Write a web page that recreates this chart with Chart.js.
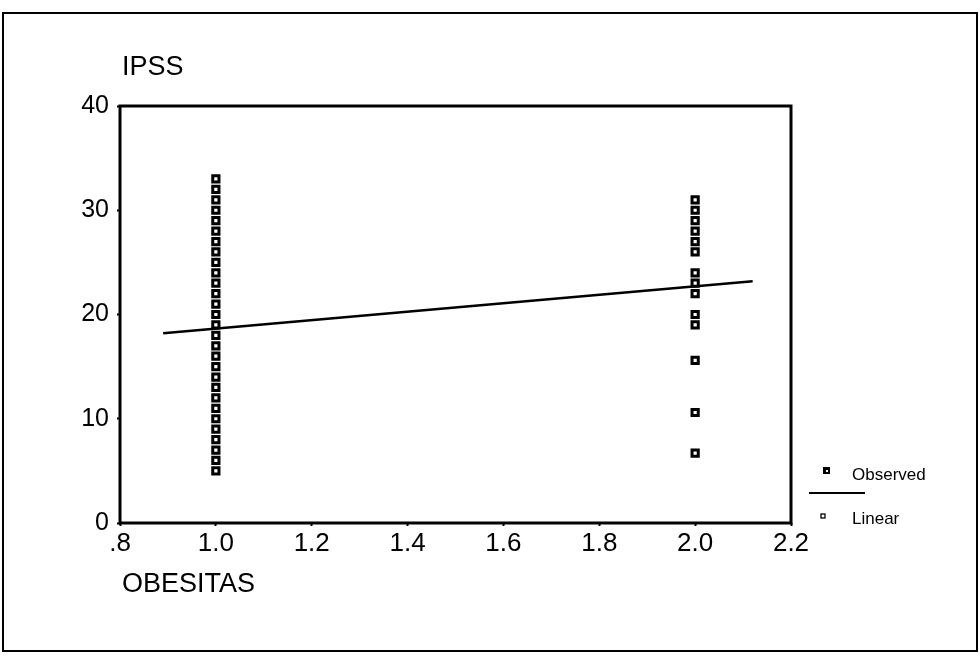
<!DOCTYPE html>
<html>
<head>
<meta charset="utf-8">
<script src="https://cdn.jsdelivr.net/npm/chart.js@4"></script>
<style>
  html, body { margin: 0; padding: 0; background: #fff; }
  #wrap { width: 980px; height: 656px; position: relative; }
  canvas { display: block; }
</style>
</head>
<body>
<div id="wrap"><canvas id="c" width="980" height="656"></canvas></div>
<script>
// ---- data ----
const xTickValues = [0.8, 1.0, 1.2, 1.4, 1.6, 1.8, 2.0, 2.2];
const xTickLabels = ['.8', '1.0', '1.2', '1.4', '1.6', '1.8', '2.0', '2.2'];
const yTickValues = [0, 10, 20, 30, 40];
const obesitasGroupX = [1.0, 2.0];
const ipssGroup1 = [33, 32, 31, 30, 29, 28, 27, 26, 25, 24, 23, 22, 21, 20, 19, 18, 17, 16, 15, 14, 13, 12, 11, 10, 9, 8, 7, 6, 5];
const ipssGroup2 = [31, 30, 29, 28, 27, 26, 24, 23, 22, 20, 19, 15.6, 10.6, 6.7];
const linearX = [0.89, 2.12];
const linearY = [18.2, 23.2];
const xTitle = 'OBESITAS';
const yTitle = 'IPSS';
const legendLabels = ['Observed', 'Linear'];

const FONT = '"Liberation Sans", Arial, Helvetica, sans-serif';

const observedPoints = [];
ipssGroup1.forEach(v => observedPoints.push({ x: obesitasGroupX[0], y: v }));
ipssGroup2.forEach(v => observedPoints.push({ x: obesitasGroupX[1], y: v }));
const linearPoints = linearX.map((x, i) => ({ x: x, y: linearY[i] }));

const decorPlugin = {
  id: 'decor',
  beforeDraw(chart) {
    const ctx = chart.ctx;
    ctx.save();
    ctx.fillStyle = '#fff';
    ctx.fillRect(0, 0, chart.width, chart.height);
    ctx.restore();
  },
  afterDraw(chart) {
    const ctx = chart.ctx;
    const a = chart.chartArea;
    ctx.save();
    // outer frame
    ctx.strokeStyle = '#000';
    ctx.lineWidth = 2;
    ctx.strokeRect(3, 13, 974, 638);
    // plot frame
    ctx.lineWidth = 3;
    ctx.strokeRect(a.left, a.top, a.right - a.left, a.bottom - a.top);
    // axis titles
    ctx.fillStyle = '#000';
    ctx.textBaseline = 'alphabetic';
    ctx.textAlign = 'left';
    ctx.font = '27px ' + FONT;
    ctx.fillText(yTitle, a.left + 2, 75);
    ctx.fillText(xTitle, a.left + 2, 592);
    // legend
    ctx.font = '17px ' + FONT;
    ctx.textBaseline = 'middle';
    ctx.fillText(legendLabels[0], 852, 475);
    ctx.fillText(legendLabels[1], 852, 519);
    // observed marker
    ctx.fillRect(823, 467, 7, 7);
    ctx.fillStyle = '#fff';
    ctx.fillRect(826, 470, 2, 2);
    // linear line
    ctx.strokeStyle = '#000';
    ctx.lineWidth = 2;
    ctx.beginPath();
    ctx.moveTo(809, 493);
    ctx.lineTo(865, 493);
    ctx.stroke();
    // linear small marker
    ctx.lineWidth = 1.3;
    ctx.strokeRect(821, 514, 4, 4);
    ctx.restore();
  }
};

new Chart(document.getElementById('c'), {
  type: 'scatter',
  data: {
    datasets: [
      {
        label: legendLabels[0],
        data: observedPoints,
        pointStyle: 'rect',
        pointRadius: 4.4,
        pointBorderWidth: 3,
        pointBackgroundColor: '#fff',
        pointBorderColor: '#000',
        showLine: false,
        order: 2
      },
      {
        type: 'line',
        label: legendLabels[1],
        data: linearPoints,
        borderColor: '#000',
        borderWidth: 2.5,
        pointRadius: 0,
        fill: false,
        order: 1
      }
    ]
  },
  options: {
    responsive: false,
    animation: false,
    events: [],
    layout: { padding: { left: 0, top: 106, right: 189, bottom: 0 } },
    plugins: { legend: { display: false }, title: { display: false }, tooltip: { enabled: false } },
    scales: {
      x: {
        type: 'linear',
        min: 0.8,
        max: 2.2,
        afterBuildTicks: s => { s.ticks = xTickValues.map(v => ({ value: v })); },
        afterFit: s => { s.height = 133; },
        grid: { drawOnChartArea: false, drawTicks: true, tickLength: 3, tickWidth: 2, color: '#000' },
        border: { display: false },
        ticks: {
          color: '#000',
          padding: 2,
          maxRotation: 0,
          autoSkip: false,
          font: { family: FONT, size: 26 },
          callback: (v, i) => xTickLabels[i]
        }
      },
      y: {
        type: 'linear',
        min: 0,
        max: 40,
        afterBuildTicks: s => { s.ticks = yTickValues.map(v => ({ value: v })); },
        afterFit: s => { s.width = 120; },
        grid: { drawOnChartArea: false, drawTicks: true, tickLength: 3, tickWidth: 2, color: '#000' },
        border: { display: false },
        ticks: {
          color: '#000',
          padding: 8,
          font: { family: FONT, size: 25 },
          callback: v => String(v)
        }
      }
    }
  },
  plugins: [decorPlugin]
});
</script>
</body>
</html>
